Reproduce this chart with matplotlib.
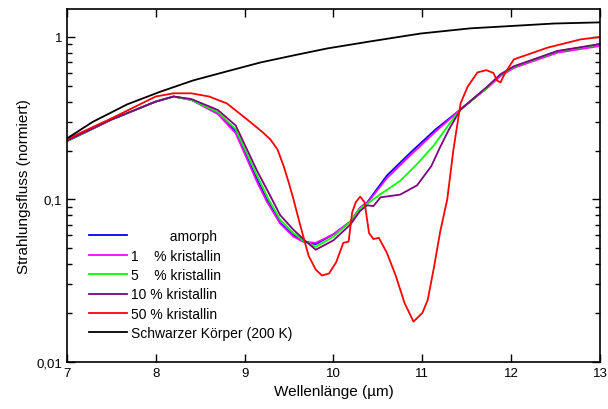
import matplotlib
matplotlib.use("Agg")
import matplotlib.pyplot as plt
from matplotlib.ticker import FixedLocator, FuncFormatter, LogLocator, NullFormatter

plt.rcParams["font.family"] = ["Liberation Sans", "DejaVu Sans"]

# wavelength grids (micrometres) and normalised flux per sample
x_grp = [7.0, 7.5, 8.0, 8.2, 8.4, 8.7, 8.9, 9.14, 9.25, 9.4, 9.55, 9.66, 9.8,
         10.0, 10.19, 10.3, 10.38, 10.6, 10.87, 11.15, 11.43, 11.74, 11.88,
         12.03, 12.52, 13.0]
amorph = [0.228, 0.31, 0.40, 0.43, 0.41, 0.34, 0.262, 0.133, 0.10, 0.072,
          0.060, 0.055, 0.053, 0.061, 0.073, 0.089, 0.096, 0.14, 0.195, 0.27,
          0.358, 0.495, 0.585, 0.655, 0.815, 0.90]
kr1 = [0.228, 0.31, 0.40, 0.43, 0.41, 0.335, 0.255, 0.128, 0.097, 0.071,
       0.059, 0.055, 0.054, 0.061, 0.073, 0.089, 0.095, 0.135, 0.188, 0.262,
       0.358, 0.49, 0.575, 0.645, 0.80, 0.88]

x_kr5 = [7.0, 7.5, 8.0, 8.2, 8.4, 8.7, 8.9, 9.14, 9.27, 9.4, 9.55, 9.66, 9.8,
         10.0, 10.19, 10.3, 10.38, 10.5, 10.75, 10.94, 11.13, 11.3, 11.43,
         11.74, 11.88, 12.03, 12.52, 13.0]
kr5 = [0.228, 0.31, 0.40, 0.43, 0.41, 0.345, 0.27, 0.14, 0.10, 0.075, 0.062,
       0.056, 0.051, 0.059, 0.073, 0.088, 0.094, 0.105, 0.13, 0.165, 0.215,
       0.29, 0.358, 0.495, 0.585, 0.655, 0.815, 0.90]

x_kr10 = [7.0, 7.5, 8.0, 8.2, 8.4, 8.7, 8.9, 9.14, 9.27, 9.4, 9.55, 9.66, 9.8,
          10.0, 10.19, 10.3, 10.38, 10.45, 10.53, 10.75, 10.94, 11.1, 11.2,
          11.3, 11.43, 11.74, 11.88, 12.03, 12.52, 13.0]
kr10 = [0.23, 0.31, 0.40, 0.43, 0.415, 0.355, 0.285, 0.15, 0.11, 0.08,
        0.065, 0.057, 0.049, 0.056, 0.07, 0.085, 0.092, 0.091, 0.103, 0.107,
        0.122, 0.16, 0.21, 0.27, 0.358, 0.50, 0.59, 0.66, 0.82, 0.905]

x_kr50 = [7.0, 7.5, 8.0, 8.2, 8.4, 8.6, 8.8, 9.03, 9.20, 9.29, 9.37, 9.44,
          9.50, 9.55, 9.63, 9.72, 9.80, 9.87, 9.95, 10.03, 10.11, 10.17,
          10.21, 10.25, 10.30, 10.35, 10.40, 10.45, 10.51, 10.60, 10.70, 10.80,
          10.90, 11.0, 11.06, 11.13, 11.2, 11.28, 11.35, 11.43, 11.51, 11.62,
          11.72, 11.80, 11.84, 11.88, 11.93, 12.03, 12.41, 12.78, 13.0]
kr50 = [0.235, 0.315, 0.43, 0.45, 0.45, 0.43, 0.39, 0.31, 0.26, 0.234, 0.203,
        0.16, 0.125, 0.10, 0.068, 0.045, 0.037, 0.034, 0.035, 0.041, 0.054,
        0.055, 0.083, 0.096, 0.104, 0.096, 0.062, 0.057, 0.058, 0.047, 0.034,
        0.023, 0.0177, 0.020, 0.024, 0.038, 0.063, 0.10, 0.203, 0.39, 0.495,
        0.605, 0.625, 0.60, 0.54, 0.525, 0.60, 0.728, 0.86, 0.966, 1.0]

x_bb = [7.0, 7.29, 7.68, 8.05, 8.42, 8.80, 9.18, 9.55, 9.93, 10.42, 10.98,
        11.54, 12.02, 12.48, 13.0]
bb200 = [0.237, 0.30, 0.385, 0.46, 0.54, 0.614, 0.697, 0.77, 0.85, 0.94,
         1.05, 1.13, 1.17, 1.21, 1.23]

fig = plt.figure(figsize=(6.08, 4.10), dpi=100)
ax = fig.add_axes([0.110, 0.115, 0.877, 0.861])

lw = 1.3
ax.plot(x_grp, amorph, color="#0000ff", lw=lw, label="          amorph")
ax.plot(x_grp, kr1, color="#ff00ff", lw=lw, label="1    % kristallin")
ax.plot(x_kr5, kr5, color="#00ff00", lw=lw, label="5    % kristallin")
ax.plot(x_kr10, kr10, color="#800080", lw=lw, label="10 % kristallin")
ax.plot(x_kr50, kr50, color="#ff0000", lw=lw, label="50 % kristallin")
ax.plot(x_bb, bb200, color="black", lw=lw, label="Schwarzer Körper (200 K)")

ax.set_yscale("log")
ax.set_xlim(7, 13)
ax.set_ylim(0.01, 1.49)

ax.xaxis.set_major_locator(FixedLocator([7, 8, 9, 10, 11, 12, 13]))
ax.yaxis.set_major_locator(FixedLocator([0.01, 0.1, 1]))
ax.yaxis.set_minor_locator(LogLocator(base=10, subs=range(2, 10)))
ax.yaxis.set_minor_formatter(NullFormatter())
labels = {0.01: "0,01", 0.1: "0,1", 1: "1"}
ax.yaxis.set_major_formatter(FuncFormatter(lambda v, p: labels.get(round(v, 2), "")))

ax.tick_params(which="both", direction="in", top=True, right=True,
               labelsize=9.5, width=1.0)
ax.tick_params(which="major", length=6)
ax.tick_params(which="minor", length=3.5)
for s in ax.spines.values():
    s.set_linewidth(1.2)

ax.set_xlabel("Wellenlänge (µm)", fontsize=11)
ax.set_ylabel("Strahlungsfluss (normiert)", fontsize=11)

ax.legend(loc="lower left", bbox_to_anchor=(0.041, 0.061), frameon=False,
          fontsize=10, handlelength=2.75, handletextpad=0.29,
          labelspacing=0.39, borderaxespad=0, borderpad=0)

fig.savefig("out.png", dpi=100)
